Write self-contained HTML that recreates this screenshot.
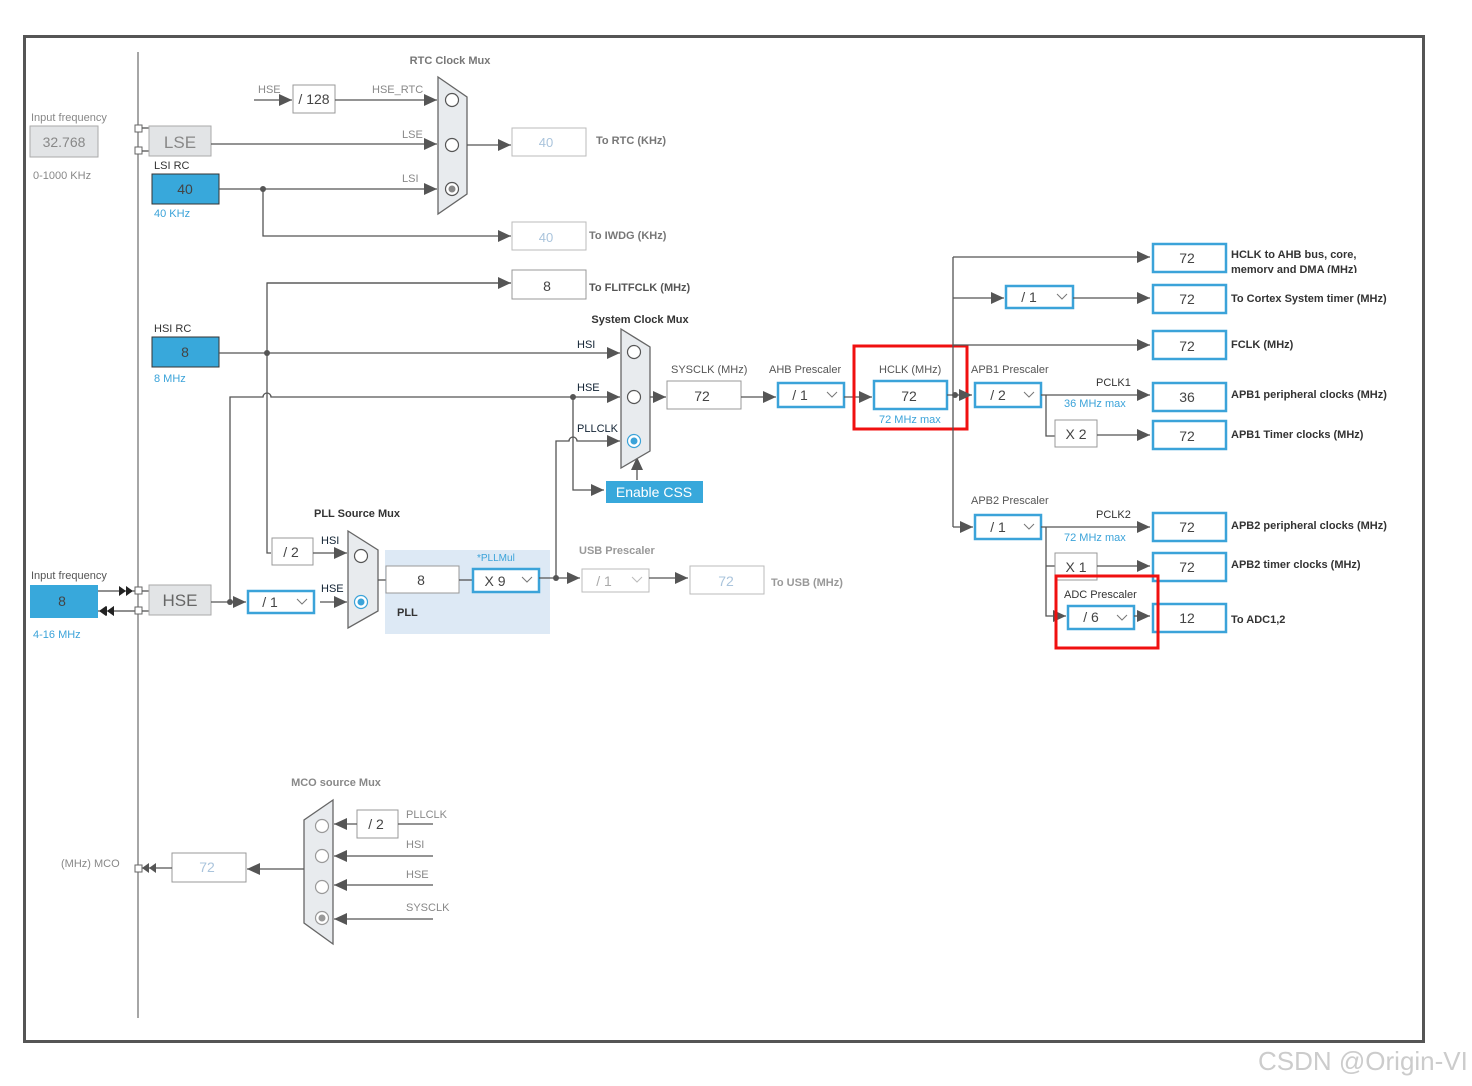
<!DOCTYPE html>
<html><head><meta charset="utf-8"><style>
html,body{margin:0;padding:0;background:#fff;}
svg{display:block;font-family:"Liberation Sans",Arial,sans-serif;}
.l{stroke:#555;stroke-width:1.3;fill:none}
.t{font-size:11px;fill:#888}
.d{font-size:11px;fill:#333}
.b{font-size:11px;fill:#555;font-weight:bold}
.bl{font-size:11px;fill:#3ba3d9}
.v{font-size:14px;fill:#444;text-anchor:middle}
.vl{font-size:14px;fill:#aac4dc;text-anchor:middle}
.bx{fill:#fff;stroke:#3ba3d9;stroke-width:2.5}
.gx{fill:#fff;stroke:#999;stroke-width:1}
.mux{fill:#e8ebee;stroke:#666;stroke-width:1.3}
.c{fill:#fff;stroke:#555;stroke-width:1.2}
</style></head><body>
<svg width="1472" height="1086" viewBox="0 0 1472 1086">
<defs>
<marker id="a" markerUnits="userSpaceOnUse" markerWidth="14" markerHeight="12" refX="13" refY="6" orient="auto"><path d="M0,0 L13,6 L0,12 Z" fill="#555"/></marker>
</defs>
<rect x="24.5" y="36.5" width="1399" height="1005" fill="none" stroke="#555" stroke-width="3"/>
<line x1="138" y1="52" x2="138" y2="1018" stroke="#777" stroke-width="1.3"/>

<!-- left inputs -->
<text x="31" y="121" class="t">Input frequency</text>
<rect x="30" y="126" width="68" height="31" fill="#e2e4e6" stroke="#aaa"/>
<text x="64" y="147" class="v" fill="#888" style="fill:#888">32.768</text>
<text x="33" y="179" class="t">0-1000 KHz</text>
<rect x="135" y="125" width="7" height="7" fill="#fff" stroke="#666"/>
<rect x="135" y="147" width="7" height="7" fill="#fff" stroke="#666"/>
<line x1="142" y1="128" x2="149" y2="128" class="l"/><line x1="142" y1="151" x2="149" y2="151" class="l"/>
<rect x="149" y="126" width="62" height="30" fill="#e2e4e6" stroke="#aaa"/>
<text x="180" y="148" style="font-size:17px;fill:#888;text-anchor:middle">LSE</text>
<text x="154" y="169" class="d">LSI RC</text>
<rect x="152" y="174" width="67" height="30" fill="#38a8db" stroke="#333"/>
<text x="185" y="194" class="v">40</text>
<text x="154" y="217" class="bl">40 KHz</text>

<!-- RTC -->
<text x="450" y="64" class="b" text-anchor="middle" style="fill:#777">RTC Clock Mux</text>
<text x="258" y="93" class="t">HSE</text>
<line x1="254" y1="100" x2="292" y2="100" class="l" marker-end="url(#a)"/>
<rect x="293" y="85" width="42" height="28" class="gx"/>
<text x="314" y="104" class="v">/ 128</text>
<text x="372" y="93" class="t">HSE_RTC</text>
<line x1="335" y1="100" x2="437" y2="100" class="l" marker-end="url(#a)"/>
<text x="402" y="138" class="t">LSE</text>
<line x1="211" y1="144" x2="437" y2="144" class="l" marker-end="url(#a)"/>
<text x="402" y="182" class="t">LSI</text>
<line x1="219" y1="189" x2="437" y2="189" class="l" marker-end="url(#a)"/>
<circle cx="263" cy="189" r="3" fill="#555"/>
<polyline points="263,189 263,236 511,236" class="l" marker-end="url(#a)"/>
<polygon points="438,77 467,97 467,194 438,214" class="mux"/>
<circle cx="452" cy="100" r="6.5" class="c"/><circle cx="452" cy="145" r="6.5" class="c"/><circle cx="452" cy="189" r="6.5" class="c"/><circle cx="452" cy="189" r="3.5" fill="#888"/>
<line x1="467" y1="145" x2="511" y2="145" class="l" marker-end="url(#a)"/>
<rect x="512" y="128" width="74" height="28" class="gx" style="stroke:#bbb"/><text x="546" y="147" class="vl" style="font-size:13px">40</text>
<text x="596" y="144" class="b" style="fill:#777">To RTC (KHz)</text>
<rect x="512" y="222" width="74" height="28" class="gx" style="stroke:#bbb"/><text x="546" y="242" class="vl" style="font-size:13px">40</text>
<text x="589" y="239" class="b" style="fill:#777">To IWDG (KHz)</text>

<!-- FLITF -->
<polyline points="511,283 267,283 267,553 271,553" class="l" marker-start="none"/>
<line x1="267" y1="283" x2="511" y2="283" class="l" marker-end="url(#a)"/>
<rect x="512" y="270" width="74" height="29" class="gx"/><text x="547" y="291" class="v">8</text>
<text x="589" y="291" class="b">To FLITFCLK (MHz)</text>

<!-- HSI -->
<text x="154" y="332" class="d">HSI RC</text>
<rect x="152" y="337" width="67" height="30" fill="#38a8db" stroke="#333"/>
<text x="185" y="357" class="v">8</text>
<text x="154" y="382" class="bl">8 MHz</text>
<line x1="219" y1="353" x2="620" y2="353" class="l" marker-end="url(#a)"/>
<circle cx="267" cy="353" r="3" fill="#555"/>
<text x="577" y="348" class="d" style="fill:#123">HSI</text>
<path d="M230,602 L230,397 L263,397 A4,4 0 0 1 271,397 L620,397" class="l" marker-end="url(#a)"/>
<circle cx="573" cy="397" r="3" fill="#555"/>
<text x="577" y="391" class="d" style="fill:#123">HSE</text>
<path d="M556,578 L556,441 L569,441 A4,4 0 0 1 577,441 L620,441" class="l" marker-end="url(#a)"/>
<text x="577" y="432" class="d" style="fill:#123">PLLCLK</text>
<polyline points="573,397 573,490 604,490" class="l" marker-end="url(#a)"/>
<rect x="606" y="481" width="97" height="22" fill="#38a8db"/>
<text x="654" y="497" style="font-size:14px;fill:#fff;text-anchor:middle">Enable CSS</text>
<line x1="637" y1="480" x2="637" y2="457" class="l" marker-end="url(#a)"/>
<text x="640" y="323" class="b" text-anchor="middle" style="fill:#333">System Clock Mux</text>
<polygon points="621,329 650,347 650,451 621,468" class="mux"/>
<circle cx="634" cy="352" r="6.5" class="c"/><circle cx="634" cy="397" r="6.5" class="c"/>
<circle cx="634" cy="441" r="6.5" class="c" style="stroke:#3ba3d9"/><circle cx="634" cy="441" r="3.5" fill="#3ba3d9"/>
<line x1="650" y1="397" x2="666" y2="397" class="l" marker-end="url(#a)"/>
<text x="671" y="373" class="t" style="fill:#555">SYSCLK (MHz)</text>
<rect x="667" y="381" width="74" height="28" class="gx"/><text x="702" y="401" class="v">72</text>
<line x1="741" y1="397" x2="776" y2="397" class="l" marker-end="url(#a)"/>
<text x="769" y="373" class="t" style="fill:#555">AHB Prescaler</text>
<rect x="778" y="383" width="66" height="24" class="bx"/><text x="800" y="400" class="v">/ 1</text>
<polyline points="827,392 832,397 837,392" fill="none" stroke="#777"/>
<line x1="844" y1="397" x2="872" y2="397" class="l" marker-end="url(#a)"/>
<text x="879" y="373" class="t" style="fill:#555">HCLK (MHz)</text>
<rect x="874" y="381" width="73" height="28" class="bx"/><text x="909" y="401" class="v">72</text>
<text x="879" y="423" class="bl">72 MHz max</text>
<rect x="854" y="346" width="113" height="83" fill="none" stroke="#f01010" stroke-width="3"/>
<line x1="947" y1="395" x2="972" y2="395" class="l" marker-end="url(#a)"/>
<circle cx="955" cy="395" r="3" fill="#555"/>
<line x1="953" y1="257" x2="953" y2="527" class="l"/>

<!-- right outputs -->
<line x1="953" y1="257" x2="1150" y2="257" class="l" marker-end="url(#a)"/>
<rect x="1153" y="244" width="73" height="28" class="bx"/><text x="1187" y="263" class="v">72</text>
<text x="1231" y="258" class="b" style="fill:#333">HCLK to AHB bus, core,</text>
<svg x="1231" y="262" width="200" height="11" overflow="hidden"><text x="0" y="11" class="b" style="fill:#333">memory and DMA (MHz)</text></svg>
<line x1="953" y1="298" x2="1004" y2="298" class="l" marker-end="url(#a)"/>
<rect x="1006" y="286" width="67" height="22" class="bx"/><text x="1029" y="302" class="v">/ 1</text>
<polyline points="1057,294 1062,299 1067,294" fill="none" stroke="#777"/>
<line x1="1073" y1="298" x2="1150" y2="298" class="l" marker-end="url(#a)"/>
<rect x="1153" y="285" width="73" height="28" class="bx"/><text x="1187" y="304" class="v">72</text>
<text x="1231" y="302" class="b" style="fill:#333">To Cortex System timer (MHz)</text>
<line x1="953" y1="345" x2="1150" y2="345" class="l" marker-end="url(#a)"/>
<rect x="1153" y="331" width="73" height="28" class="bx"/><text x="1187" y="351" class="v">72</text>
<text x="1231" y="348" class="b" style="fill:#333">FCLK (MHz)</text>

<text x="971" y="373" class="t" style="fill:#555">APB1 Prescaler</text>
<rect x="975" y="383" width="66" height="24" class="bx"/><text x="998" y="400" class="v">/ 2</text>
<polyline points="1024,392 1029,397 1034,392" fill="none" stroke="#777"/>
<text x="1096" y="386" class="d">PCLK1</text>
<line x1="1041" y1="395" x2="1150" y2="395" class="l" marker-end="url(#a)"/>
<text x="1064" y="407" class="bl">36 MHz max</text>
<rect x="1153" y="383" width="73" height="28" class="bx"/><text x="1187" y="402" class="v">36</text>
<text x="1231" y="398" class="b" style="fill:#333">APB1 peripheral clocks (MHz)</text>
<polyline points="1046,395 1046,436 1055,436" class="l"/>
<rect x="1055" y="420" width="42" height="27" class="gx"/><text x="1076" y="439" class="v">X 2</text>
<line x1="1097" y1="435" x2="1150" y2="435" class="l" marker-end="url(#a)"/>
<rect x="1153" y="421" width="73" height="28" class="bx"/><text x="1187" y="441" class="v">72</text>
<text x="1231" y="438" class="b" style="fill:#333">APB1 Timer clocks (MHz)</text>

<line x1="953" y1="527" x2="973" y2="527" class="l" marker-end="url(#a)"/>
<text x="971" y="504" class="t" style="fill:#555">APB2 Prescaler</text>
<rect x="975" y="515" width="66" height="24" class="bx"/><text x="998" y="532" class="v">/ 1</text>
<polyline points="1024,524 1029,529 1034,524" fill="none" stroke="#777"/>
<text x="1096" y="518" class="d">PCLK2</text>
<line x1="1041" y1="527" x2="1150" y2="527" class="l" marker-end="url(#a)"/>
<text x="1064" y="541" class="bl">72 MHz max</text>
<rect x="1153" y="513" width="73" height="28" class="bx"/><text x="1187" y="532" class="v">72</text>
<text x="1231" y="529" class="b" style="fill:#333">APB2 peripheral clocks (MHz)</text>
<polyline points="1046,527 1046,616 1066,616" class="l" marker-end="url(#a)"/>
<line x1="1046" y1="566" x2="1055" y2="566" class="l"/>
<rect x="1055" y="553" width="42" height="27" class="gx"/><text x="1076" y="572" class="v">X 1</text>
<line x1="1097" y1="566" x2="1150" y2="566" class="l" marker-end="url(#a)"/>
<rect x="1153" y="553" width="73" height="28" class="bx"/><text x="1187" y="572" class="v">72</text>
<text x="1231" y="568" class="b" style="fill:#333">APB2 timer clocks (MHz)</text>
<text x="1064" y="598" class="d">ADC Prescaler</text>
<rect x="1068" y="606" width="66" height="23" class="bx"/><text x="1091" y="622" class="v">/ 6</text>
<polyline points="1117,615 1122,620 1127,615" fill="none" stroke="#777"/>
<line x1="1134" y1="616" x2="1150" y2="616" class="l" marker-end="url(#a)"/>
<rect x="1153" y="604" width="73" height="28" class="bx"/><text x="1187" y="623" class="v">12</text>
<text x="1231" y="623" class="b" style="fill:#333">To ADC1,2</text>
<rect x="1056" y="576" width="102" height="72" fill="none" stroke="#f01010" stroke-width="3"/>

<!-- PLL -->
<text x="314" y="517" class="b" style="fill:#333">PLL Source Mux</text>
<rect x="272" y="538" width="41" height="27" class="gx"/><text x="291" y="557" class="v">/ 2</text>
<text x="321" y="544" class="d" style="fill:#123">HSI</text>
<line x1="313" y1="553" x2="347" y2="553" class="l" marker-end="url(#a)"/>
<polygon points="348,531 378,550 378,611 348,628" class="mux"/>
<circle cx="361" cy="556" r="6.5" class="c"/>
<circle cx="361" cy="602" r="6.5" class="c" style="stroke:#3ba3d9"/><circle cx="361" cy="602" r="3.5" fill="#3ba3d9"/>
<rect x="385" y="550" width="165" height="84" fill="#dde9f5"/>
<line x1="378" y1="580" x2="386" y2="580" class="l"/>
<rect x="386" y="566" width="73" height="27" class="gx"/><text x="421" y="585" class="v">8</text>
<text x="397" y="616" class="b" style="fill:#333">PLL</text>
<text x="477" y="561" class="bl" style="font-size:10px">*PLLMul</text>
<line x1="459" y1="580" x2="473" y2="580" class="l"/>
<rect x="473" y="569" width="66" height="23" class="bx"/><text x="495" y="586" class="v">X 9</text>
<polyline points="522,577 527,582 532,577" fill="none" stroke="#777"/>
<line x1="539" y1="578" x2="580" y2="578" class="l" marker-end="url(#a)"/>
<circle cx="556" cy="578" r="3" fill="#555"/>
<text x="579" y="554" class="b" style="fill:#999">USB Prescaler</text>
<rect x="582" y="569" width="67" height="23" fill="#fff" stroke="#bbb"/><text x="604" y="586" class="vl" style="fill:#aaa">/ 1</text>
<polyline points="632,577 637,582 642,577" fill="none" stroke="#bbb"/>
<line x1="649" y1="578" x2="688" y2="578" class="l" marker-end="url(#a)"/>
<rect x="690" y="566" width="74" height="28" fill="#fff" stroke="#bbb"/><text x="726" y="586" class="vl">72</text>
<text x="771" y="586" class="b" style="fill:#999">To USB (MHz)</text>

<!-- HSE -->
<text x="31" y="579" class="d" style="fill:#555">Input frequency</text>
<rect x="30" y="585" width="68" height="33" fill="#38a8db"/>
<text x="62" y="606" class="v">8</text>
<text x="33" y="638" class="bl">4-16 MHz</text>
<line x1="98" y1="591" x2="135" y2="591" stroke="#222"/>
<line x1="98" y1="611" x2="135" y2="611" stroke="#222"/>
<path d="M119,586 L126,591 L119,596Z M126,586 L133,591 L126,596Z M107,611 L114,606 L114,616Z M100,611 L107,606 L107,616Z" fill="#222"/>
<path d="M99,611 L106,606 L106,616Z M107,611 L114,606 L114,616Z" fill="#222"/>
<rect x="135" y="587" width="7" height="7" fill="#fff" stroke="#666"/>
<rect x="135" y="607" width="7" height="7" fill="#fff" stroke="#666"/>
<line x1="142" y1="591" x2="149" y2="591" class="l"/><line x1="142" y1="611" x2="149" y2="611" class="l"/>
<rect x="149" y="585" width="62" height="30" fill="#e2e4e6" stroke="#aaa"/>
<text x="180" y="606" style="font-size:17px;fill:#666;text-anchor:middle">HSE</text>
<line x1="211" y1="602" x2="246" y2="602" class="l" marker-end="url(#a)"/>
<circle cx="230" cy="602" r="3" fill="#555"/>
<rect x="248" y="591" width="66" height="22" class="bx"/><text x="270" y="607" class="v">/ 1</text>
<polyline points="297,599 302,604 307,599" fill="none" stroke="#777"/>
<text x="321" y="592" class="d" style="fill:#123">HSE</text>
<line x1="320" y1="602" x2="347" y2="602" class="l" marker-end="url(#a)"/>

<!-- MCO -->
<text x="336" y="786" class="b" text-anchor="middle" style="fill:#888">MCO source Mux</text>
<polygon points="333,800 304,820 304,923 333,944" class="mux"/>
<circle cx="322" cy="826" r="6.5" class="c" style="stroke:#999"/><circle cx="322" cy="856" r="6.5" class="c" style="stroke:#999"/>
<circle cx="322" cy="887" r="6.5" class="c" style="stroke:#999"/><circle cx="322" cy="918" r="6.5" class="c" style="stroke:#999"/><circle cx="322" cy="918" r="3.5" fill="#999"/>
<rect x="357" y="810" width="41" height="28" class="gx"/><text x="376" y="829" class="v">/ 2</text>
<text x="406" y="818" class="t">PLLCLK</text>
<line x1="398" y1="824" x2="433" y2="824" class="l"/>
<line x1="357" y1="824" x2="334" y2="824" class="l" marker-end="url(#a)"/>
<text x="406" y="848" class="t">HSI</text>
<line x1="433" y1="856" x2="334" y2="856" class="l" marker-end="url(#a)"/>
<text x="406" y="878" class="t">HSE</text>
<line x1="433" y1="885" x2="334" y2="885" class="l" marker-end="url(#a)"/>
<text x="406" y="911" class="t">SYSCLK</text>
<line x1="433" y1="919" x2="334" y2="919" class="l" marker-end="url(#a)"/>
<line x1="304" y1="869" x2="247" y2="869" class="l" marker-end="url(#a)"/>
<rect x="172" y="853" width="74" height="29" fill="#fff" stroke="#999"/><text x="207" y="872" class="vl">72</text>
<line x1="172" y1="868" x2="142" y2="868" class="l"/>
<path d="M142,868 L149,863 L149,873Z M149,868 L156,863 L156,873Z" fill="#555"/>
<rect x="135" y="865" width="7" height="7" fill="#fff" stroke="#666"/>
<text x="61" y="867" class="t">(MHz) MCO</text>

<text x="1258" y="1070" style="font-size:26px;fill:#ccc">CSDN @Origin-VI</text>
</svg>
</body></html>
